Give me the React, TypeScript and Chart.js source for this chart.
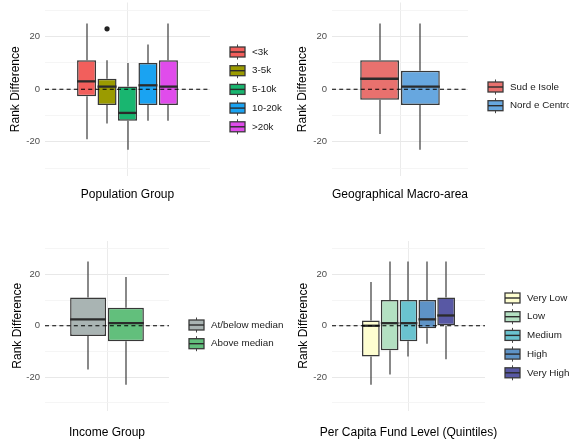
import { useEffect, useRef } from "react";
import { Chart, registerables } from "chart.js";

Chart.register(...registerables);

// ---- Data ----
const yGridValues = [-30, -20, -10, 0, 10, 20, 30];
const yLabelValues = [-20, 0, 20];
const yMin = -33;
const yMax = 33;

const popGroups = ["<3k", "3-5k", "5-10k", "10-20k", ">20k"];
const popLower = [-19, -13, -23, -12, -12];
const popQ1 = [-2.7, -6, -12, -6, -6];
const popMedian = [3, 1, -9, 1.5, 1];
const popQ3 = [11, 4, 1, 10, 11];
const popUpper = [25, 11, 10, 17, 25];
const popOutliers = [[], [23], [], [], []];
const popColors = ["#F25F5C", "#9B9B00", "#19B670", "#1AA3F2", "#E04CEB"];

const geoGroups = ["Sud e Isole", "Nord e Centro"];
const geoLower = [-17, -23];
const geoQ1 = [-4, -6];
const geoMedian = [4, 1];
const geoQ3 = [11, 7];
const geoUpper = [25, 25];
const geoOutliers = [[], []];
const geoColors = ["#E8716E", "#67A7DF"];

const incGroups = ["At/below median", "Above median"];
const incLower = [-17, -23];
const incQ1 = [-4, -6];
const incMedian = [2.5, 1];
const incQ3 = [11, 7];
const incUpper = [25, 19];
const incOutliers = [[], []];
const incColors = ["#A9B4B3", "#62BF7C"];

const fundGroups = ["Very Low", "Low", "Medium", "High", "Very High"];
const fundLower = [-23, -19, -12, -7, -13];
const fundQ1 = [-12, -9.5, -6, -1, 0];
const fundMedian = [0, 1, 1, 2.5, 4];
const fundQ3 = [2, 10, 10, 10, 11];
const fundUpper = [17, 25, 25, 25, 25];
const fundOutliers = [[], [], [], [], []];
const fundColors = ["#FEFED0", "#B3E0C2", "#6AC3CF", "#5E93C6", "#5858A4"];

const FONT = "'Liberation Sans', Arial, sans-serif";

type PanelProps = {
  left: number;
  top: number;
  width: number;
  height: number;
  area: { l: number; r: number; t: number; b: number };
  cats: string[];
  lower: number[];
  q1: number[];
  med: number[];
  q3: number[];
  upper: number[];
  outliers: number[][];
  colors: string[];
  xTitle: string;
  legendTop: number;
  catPct: number;
  barPct: number;
  yTitleX: number;
  xTitleY: number;
};

function Panel(p: PanelProps) {
  const ref = useRef<HTMLCanvasElement | null>(null);
  useEffect(() => {
    if (!ref.current) return;
    const boxPlugin = {
      id: "boxextras",
      beforeDatasetsDraw(chart: any) {
        const ctx = chart.ctx;
        const ys = chart.scales.y;
        ctx.save();
        p.cats.forEach((_, i) => {
          const bar = chart.getDatasetMeta(i).data[0];
          const x = Math.round(bar.x);
          ctx.strokeStyle = "#4a4a4a";
          ctx.lineWidth = 1.3;
          ctx.beginPath();
          ctx.moveTo(x, ys.getPixelForValue(p.upper[i]));
          ctx.lineTo(x, ys.getPixelForValue(p.q3[i]));
          ctx.moveTo(x, ys.getPixelForValue(p.q1[i]));
          ctx.lineTo(x, ys.getPixelForValue(p.lower[i]));
          ctx.stroke();
        });
        ctx.restore();
      },
      afterDatasetsDraw(chart: any) {
        const ctx = chart.ctx;
        const ys = chart.scales.y;
        const ca = chart.chartArea;
        ctx.save();
        p.cats.forEach((_, i) => {
          const bar = chart.getDatasetMeta(i).data[0];
          const w = bar.width;
          const ym = ys.getPixelForValue(p.med[i]);
          ctx.strokeStyle = "#2b2b2b";
          ctx.lineWidth = 2.3;
          ctx.beginPath();
          ctx.moveTo(bar.x - w / 2, ym);
          ctx.lineTo(bar.x + w / 2, ym);
          ctx.stroke();
          ctx.fillStyle = "#222222";
          p.outliers[i].forEach((v) => {
            ctx.beginPath();
            ctx.arc(bar.x, ys.getPixelForValue(v), 2.6, 0, Math.PI * 2);
            ctx.fill();
          });
        });
        const y0 = ys.getPixelForValue(0);
        ctx.strokeStyle = "#000000";
        ctx.lineWidth = 1.1;
        ctx.setLineDash([4, 3.2]);
        ctx.beginPath();
        ctx.moveTo(ca.left, y0);
        ctx.lineTo(ca.right, y0);
        ctx.stroke();
        ctx.restore();
      },
      afterDraw(chart: any) {
        const ctx = chart.ctx;
        const ca = chart.chartArea;
        const x0 = ca.right + 20;
        ctx.save();
        // x-axis title (drawn without width compression)
        ctx.font = `12px ${FONT}`;
        ctx.fillStyle = "#000000";
        ctx.textAlign = "center";
        ctx.textBaseline = "middle";
        ctx.fillText(p.xTitle, (ca.left + ca.right) / 2, p.xTitleY);
        // legend
        ctx.font = `9.8px ${FONT}`;
        ctx.textBaseline = "middle";
        ctx.textAlign = "left";
        p.cats.forEach((c, i) => {
          const cy = p.legendTop + i * 18.7;
          ctx.strokeStyle = "#444444";
          ctx.lineWidth = 1;
          ctx.beginPath();
          ctx.moveTo(x0 + 7.5, cy - 7.5);
          ctx.lineTo(x0 + 7.5, cy + 7.5);
          ctx.stroke();
          ctx.fillStyle = p.colors[i];
          ctx.fillRect(x0, cy - 5, 15, 10);
          ctx.strokeStyle = "#3a3a3a";
          ctx.lineWidth = 1.3;
          ctx.strokeRect(x0, cy - 5, 15, 10);
          ctx.strokeStyle = "#2b2b2b";
          ctx.lineWidth = 1.4;
          ctx.beginPath();
          ctx.moveTo(x0, cy);
          ctx.lineTo(x0 + 15, cy);
          ctx.stroke();
          ctx.fillStyle = "#1a1a1a";
          ctx.fillText(c, x0 + 22, cy);
        });
        ctx.restore();
      },
    };

    const chart = new Chart(ref.current, {
      type: "bar",
      data: {
        labels: [""],
        datasets: p.cats.map((c, i) => ({
          label: c,
          data: [[p.q1[i], p.q3[i]]] as any,
          backgroundColor: p.colors[i],
          borderColor: "#383838",
          borderWidth: 1.5,
          borderSkipped: false,
          categoryPercentage: p.catPct,
          barPercentage: p.barPct,
        })),
      },
      options: {
        animation: false,
        responsive: false,
        devicePixelRatio: 1,
        layout: {
          padding: { left: 0, top: p.area.t, right: p.width - p.area.r, bottom: 0 },
        },
        plugins: { legend: { display: false }, tooltip: { enabled: false } },
        scales: {
          x: {
            type: "category",
            offset: true,
            grid: { display: true, offset: false, color: "#ebebeb", lineWidth: 1, drawTicks: false },
            border: { display: false },
            ticks: { display: false },
            title: { display: false },
            afterFit: (s: any) => {
              s.height = p.height - p.area.b;
              s.paddingLeft = 0;
              s.paddingRight = 0;
            },
          },
          y: {
            type: "linear",
            min: yMin,
            max: yMax,
            afterBuildTicks: (s: any) => {
              s.ticks = yGridValues.map((v) => ({ value: v }));
            },
            grid: {
              drawTicks: false,
              color: (ctx: any) =>
                yLabelValues.includes(ctx.tick?.value) ? "#e8e8e8" : "#f2f2f2",
              lineWidth: (ctx: any) => (yLabelValues.includes(ctx.tick?.value) ? 1 : 0.8),
            },
            border: { display: false },
            ticks: {
              padding: 5,
              color: "#4d4d4d",
              font: { family: FONT, size: 9.5 },
              callback: (v: any) => (yLabelValues.includes(Number(v)) ? String(v) : ""),
            },
            title: {
              display: true,
              text: "Rank Difference",
              color: "#000000",
              font: { family: FONT, size: 12 },
              padding: { top: p.yTitleX - 7.2, bottom: 0 },
            },
            afterFit: (s: any) => {
              s.width = p.area.l;
              s.paddingTop = 0;
              s.paddingBottom = 0;
            },
          },
        },
      },
      plugins: [boxPlugin],
    });
    return () => chart.destroy();
  }, []);

  return (
    <canvas
      ref={ref}
      width={p.width}
      height={p.height}
      style={{
        position: "absolute",
        left: p.left,
        top: p.top,
        width: p.width,
        height: p.height,
      }}
    />
  );
}

export default function App() {
  return (
    <div
      style={{
        position: "fixed",
        left: 0,
        top: 0,
        width: 569,
        height: 442,
        background: "#ffffff",
        overflow: "hidden",
      }}
    >
      <Panel
        left={0}
        top={0}
        width={285}
        height={221}
        area={{ l: 45, r: 210, t: 2.5, b: 176 }}
        cats={popGroups}
        lower={popLower}
        q1={popQ1}
        med={popMedian}
        q3={popQ3}
        upper={popUpper}
        outliers={popOutliers}
        colors={popColors}
        xTitle="Population Group"
        legendTop={52}
        catPct={0.62}
        barPct={0.93}
        yTitleX={16}
        xTitleY={195}
      />
      <Panel
        left={285}
        top={0}
        width={284}
        height={221}
        area={{ l: 47, r: 183, t: 2.5, b: 176 }}
        cats={geoGroups}
        lower={geoLower}
        q1={geoQ1}
        med={geoMedian}
        q3={geoQ3}
        upper={geoUpper}
        outliers={geoOutliers}
        colors={geoColors}
        xTitle="Geographical Macro-area"
        legendTop={87}
        catPct={0.6}
        barPct={0.95}
        yTitleX={18}
        xTitleY={195}
      />
      <Panel
        left={0}
        top={221}
        width={285}
        height={221}
        area={{ l: 45, r: 169, t: 20, b: 189.5 }}
        cats={incGroups}
        lower={incLower}
        q1={incQ1}
        med={incMedian}
        q3={incQ3}
        upper={incUpper}
        outliers={incOutliers}
        colors={incColors}
        xTitle="Income Group"
        legendTop={104}
        catPct={0.61}
        barPct={0.95}
        yTitleX={18}
        xTitleY={212}
      />
      <Panel
        left={285}
        top={221}
        width={284}
        height={221}
        area={{ l: 47, r: 200, t: 20, b: 189.5 }}
        cats={fundGroups}
        lower={fundLower}
        q1={fundQ1}
        med={fundMedian}
        q3={fundQ3}
        upper={fundUpper}
        outliers={fundOutliers}
        colors={fundColors}
        xTitle="Per Capita Fund Level (Quintiles)"
        legendTop={77}
        catPct={0.615}
        barPct={0.94}
        yTitleX={19}
        xTitleY={212}
      />
    </div>
  );
}
